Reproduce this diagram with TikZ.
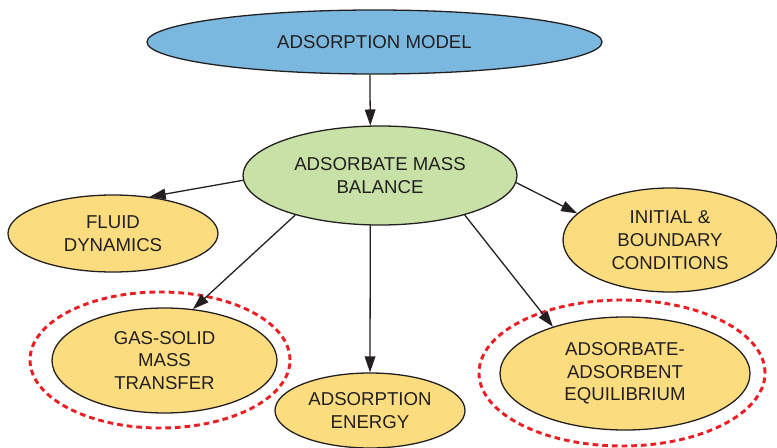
\documentclass[tikz,border=0pt]{standalone}
\usepackage{fontspec}
\setmainfont{Liberation Sans}
\usepackage{tikz}
\usetikzlibrary{shapes.geometric}
\usetikzlibrary{arrows.meta}

\definecolor{modelblue}{RGB}{122,184,224}
\definecolor{balancegreen}{RGB}{199,225,166}
\definecolor{partyellow}{RGB}{251,221,127}
\definecolor{ringred}{RGB}{236,30,36}
\definecolor{inkgray}{RGB}{35,31,32}

\begin{document}
\begin{tikzpicture}[x=0.03cm,y=-0.03cm,
  every node/.style={ellipse,draw=inkgray,line width=1.1pt,inner sep=0pt,align=center,text=inkgray,font=\fontsize{15.9}{19.4}\selectfont},
  part/.style={fill=partyellow},
  ring/.style={draw=ringred,line width=2.5pt,dash pattern=on 0.17cm off 0.12cm},
  link/.style={draw=inkgray,line width=1.1pt,-{Triangle[length=0.48cm,width=0.32cm]}}]

\useasboundingbox (0,0) rectangle (777,448);

\draw[ring] (160,360) ellipse [x radius=3.9cm,y radius=2.04cm];
\draw[ring] (622,373) ellipse [x radius=4.29cm,y radius=2.19cm];

\node[fill=modelblue,minimum width=13.65cm,minimum height=1.92cm] (model) at (374.5,42) {ADSORPTION MODEL};
\node[fill=balancegreen,minimum width=8.22cm,minimum height=2.97cm] (balance) at (380,175.5) {ADSORBATE MASS\\BALANCE};

\node[part,minimum width=6.3cm,minimum height=2.31cm] (fluid) at (113,233.5) {FLUID\\DYNAMICS};
\node[part,minimum width=6.42cm,minimum height=3.12cm] (initial) at (670,240) {INITIAL \&\\BOUNDARY\\CONDITIONS};
\node[part,minimum width=6.75cm,minimum height=3.15cm] (gas solid) at (164.5,360.5) {GAS-SOLID\\MASS\\TRANSFER};
\node[part,minimum width=5.7cm,minimum height=2.25cm] (energy) at (370,410.5) {ADSORPTION\\ENERGY};
\node[part,minimum width=7.5cm,minimum height=3.39cm] (equilibrium) at (625,373.5) {ADSORBATE-\\ADSORBENT\\EQUILIBRIUM};

\draw[link] (model.262) -- (balance.101);
\draw[link] (balance.182) -- (fluid.45);
\draw[link] (balance.-3) -- (initial.164);
\draw[link] (balance.205) -- (gas solid.61);
\draw[link] (balance.259) -- (energy.north);
\draw[link] (balance.-25) -- (equilibrium.147);
\end{tikzpicture}
\end{document}
